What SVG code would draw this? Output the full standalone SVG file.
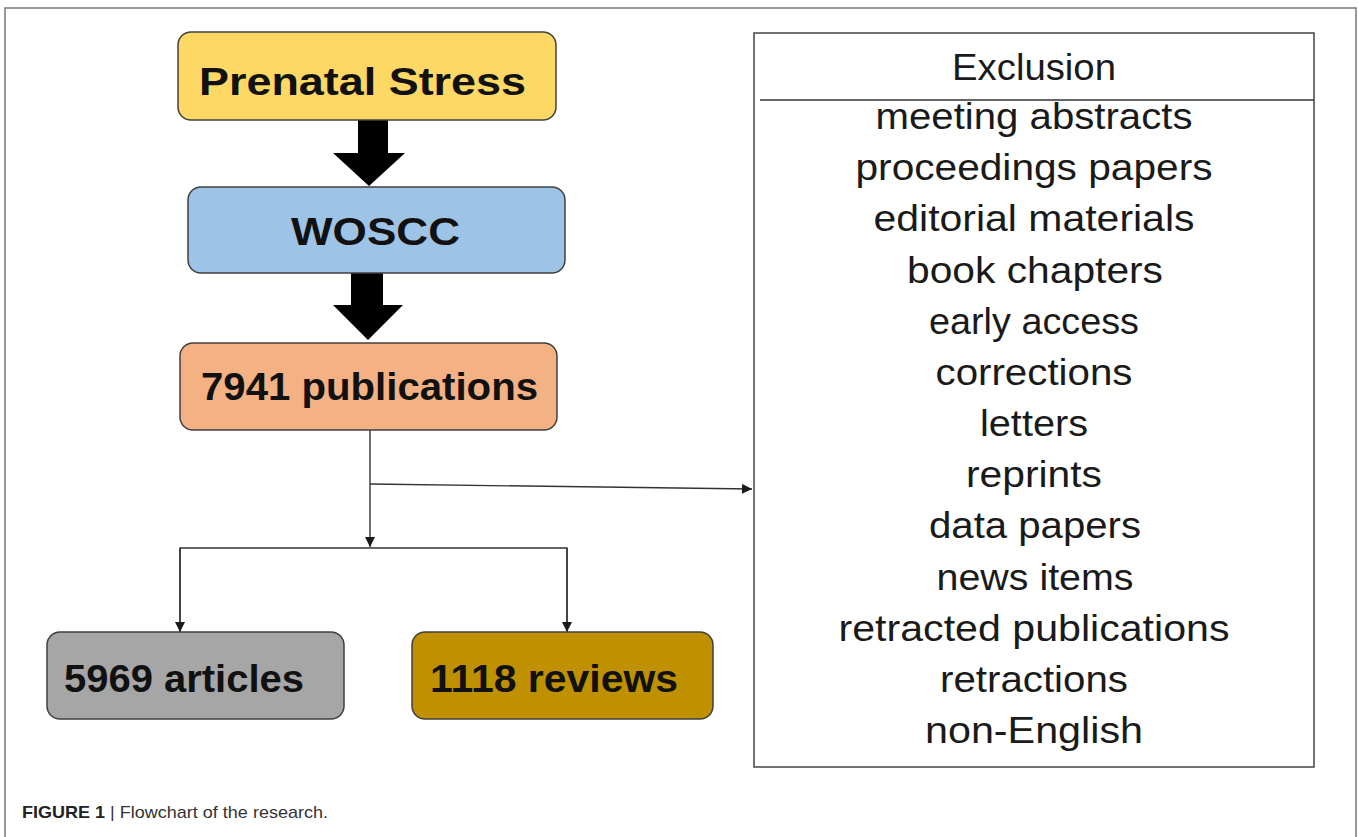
<svg xmlns="http://www.w3.org/2000/svg" width="1358" height="837" viewBox="0 0 1358 837">
  <defs>
    <marker id="ah" viewBox="0 0 10 10" refX="10" refY="5" markerWidth="10" markerHeight="10" markerUnits="userSpaceOnUse" orient="auto">
      <path d="M0,0 L10,5 L0,10 Z" fill="#1a1a1a"/>
    </marker>
    <style>
      .box { stroke: #404040; stroke-width: 1.5; }
      .lbl { font-family: "Liberation Sans", Arial, sans-serif; font-weight: bold; font-size: 38px; fill: #111; text-anchor: start; }
      .exc { font-family: "Liberation Sans", Arial, sans-serif; font-size: 36px; fill: #1a1a1a; text-anchor: middle; }
      .conn { stroke: #333; stroke-width: 1.4; fill: none; }
      .fat { fill: #000; }
      .cap { font-family: "Liberation Sans", Arial, sans-serif; font-size: 17px; fill: #333; }
    </style>
  </defs>
  <rect width="1358" height="837" fill="#fff"/>
  <!-- outer frame -->
  <path d="M5,837 V8 H1356 V837" fill="none" stroke="#777" stroke-width="1.5"/>

  <g id="connectors">
    <polygon class="fat" points="358,120 388,120 388,153 405,153 369,186 333,153 358,153"/>
    <polygon class="fat" points="351,273 383,273 383,305 403,305 368,340 333,305 351,305"/>
    <line class="conn" x1="370" y1="430" x2="370" y2="547" marker-end="url(#ah)"/>
    <line class="conn" x1="370" y1="484" x2="752" y2="489" marker-end="url(#ah)"/>
    <polyline class="conn" points="180,632 180,548 567,548 567,632"/>
    <line class="conn" x1="180" y1="548" x2="180" y2="632" marker-end="url(#ah)"/>
    <line class="conn" x1="567" y1="548" x2="567" y2="632" marker-end="url(#ah)"/>
  </g>

  <g id="prenatal-stress">
    <rect class="box" x="178" y="32" width="378" height="88" rx="13" fill="#FDD865"/>
    <text class="lbl" x="199" y="95" textLength="327" lengthAdjust="spacingAndGlyphs">Prenatal Stress</text>
  </g>
  <g id="woscc">
    <rect class="box" x="188" y="187" width="377" height="86" rx="13" fill="#9DC3E6"/>
    <text class="lbl" x="291" y="245" font-size="40" textLength="169" lengthAdjust="spacingAndGlyphs">WOSCC</text>
  </g>
  <g id="publications">
    <rect class="box" x="180" y="343" width="377" height="87" rx="13" fill="#F4B183"/>
    <text class="lbl" x="201" y="400" textLength="337" lengthAdjust="spacingAndGlyphs">7941 publications</text>
  </g>
  <g id="articles">
    <rect class="box" x="47" y="632" width="297" height="87" rx="13" fill="#A6A6A6"/>
    <text class="lbl" x="64" y="692" textLength="240" lengthAdjust="spacingAndGlyphs">5969 articles</text>
  </g>
  <g id="reviews">
    <rect class="box" x="412" y="632" width="301" height="87" rx="13" fill="#BF9000"/>
    <text class="lbl" x="430" y="692" textLength="248" lengthAdjust="spacingAndGlyphs">1118 reviews</text>
  </g>

  <g id="exclusion">
    <rect x="754" y="33" width="560" height="734" fill="#fff" stroke="#444" stroke-width="1.5"/>
    <line x1="760" y1="100" x2="1314" y2="100" stroke="#333" stroke-width="1.5"/>
    <text class="exc" x="1034" y="80" textLength="164" lengthAdjust="spacingAndGlyphs">Exclusion</text>
    <text class="exc" x="1034" y="129" textLength="317" lengthAdjust="spacingAndGlyphs">meeting abstracts</text>
    <text class="exc" x="1034" y="180" textLength="357" lengthAdjust="spacingAndGlyphs">proceedings papers</text>
    <text class="exc" x="1034" y="231" textLength="321" lengthAdjust="spacingAndGlyphs">editorial materials</text>
    <text class="exc" x="1035" y="283" textLength="256" lengthAdjust="spacingAndGlyphs">book chapters</text>
    <text class="exc" x="1034" y="334" textLength="210" lengthAdjust="spacingAndGlyphs">early access</text>
    <text class="exc" x="1034" y="385" textLength="197" lengthAdjust="spacingAndGlyphs">corrections</text>
    <text class="exc" x="1034" y="436" textLength="108" lengthAdjust="spacingAndGlyphs">letters</text>
    <text class="exc" x="1034" y="487" textLength="136" lengthAdjust="spacingAndGlyphs">reprints</text>
    <text class="exc" x="1035" y="538" textLength="212" lengthAdjust="spacingAndGlyphs">data papers</text>
    <text class="exc" x="1035" y="590" textLength="197" lengthAdjust="spacingAndGlyphs">news items</text>
    <text class="exc" x="1034" y="641" textLength="391" lengthAdjust="spacingAndGlyphs">retracted publications</text>
    <text class="exc" x="1034" y="692" textLength="188" lengthAdjust="spacingAndGlyphs">retractions</text>
    <text class="exc" x="1034" y="743" textLength="218" lengthAdjust="spacingAndGlyphs">non-English</text>
  </g>

  <g id="caption">
    <text class="cap" x="22" y="818" textLength="306" lengthAdjust="spacingAndGlyphs"><tspan font-weight="bold" fill="#222">FIGURE 1</tspan> | Flowchart of the research.</text>
  </g>
</svg>
